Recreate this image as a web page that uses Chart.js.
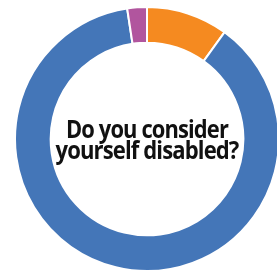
<!DOCTYPE html>
<html>
<head>
<meta charset="utf-8">
<script src="https://cdn.jsdelivr.net/npm/chart.js@4/dist/chart.umd.min.js"></script>
<style>
  html, body { margin: 0; padding: 0; background: #fff; overflow: hidden; }
  #wrap { position: relative; width: 294px; height: 274px; }
</style>
</head>
<body>
<div id="wrap"><canvas id="disabled-chart"></canvas></div>
<script>
const answers = ['Yes', 'No', 'Prefer not to say'];
const shares = [10, 87.6, 2.4];
const sliceColors = ['#F58A20', '#4476B8', '#B1559E'];
const centerLines = ['Do you consider', 'yourself disabled?'];

// draws the question in the hole of the doughnut, squeezed a bit like a condensed face
const centerText = {
    id: 'centerText',
    afterDraw(chart) {
        const ctx = chart.ctx;
        const arc = chart.getDatasetMeta(0).data[0];
        const rows = [[centerLines[0], 138, 162], [centerLines[1], 159, 183]];
        ctx.save();
        ctx.fillStyle = '#111';
        ctx.font = 'bold 25px "Open Sans"';
        ctx.letterSpacing = '-1px';
        ctx.textAlign = 'center';
        ctx.textBaseline = 'alphabetic';
        rows.forEach(([txt, y, w]) => {
            const sx = w / ctx.measureText(txt).width;
            ctx.save();
            ctx.translate(arc.x, y);
            ctx.scale(sx, 1);
            ctx.fillText(txt, 0, 0);
            ctx.restore();
        });
        ctx.restore();
    }
};

new Chart(document.getElementById('disabled-chart'), {
    type: 'doughnut',
    data: {
        labels: answers,
        datasets: [{
            data: shares,
            backgroundColor: sliceColors,
            borderColor: '#fff',
            borderWidth: 2
        }]
    },
    options: {
        responsive: true,
        maintainAspectRatio: false,
        animation: false,
        cutout: '73%',
        layout: { padding: { left: 14, right: 14, top: 6, bottom: 2 } },
        plugins: {
            legend: { display: false },
            tooltip: { enabled: false }
        }
    },
    plugins: [centerText]
});
</script>
</body>
</html>
